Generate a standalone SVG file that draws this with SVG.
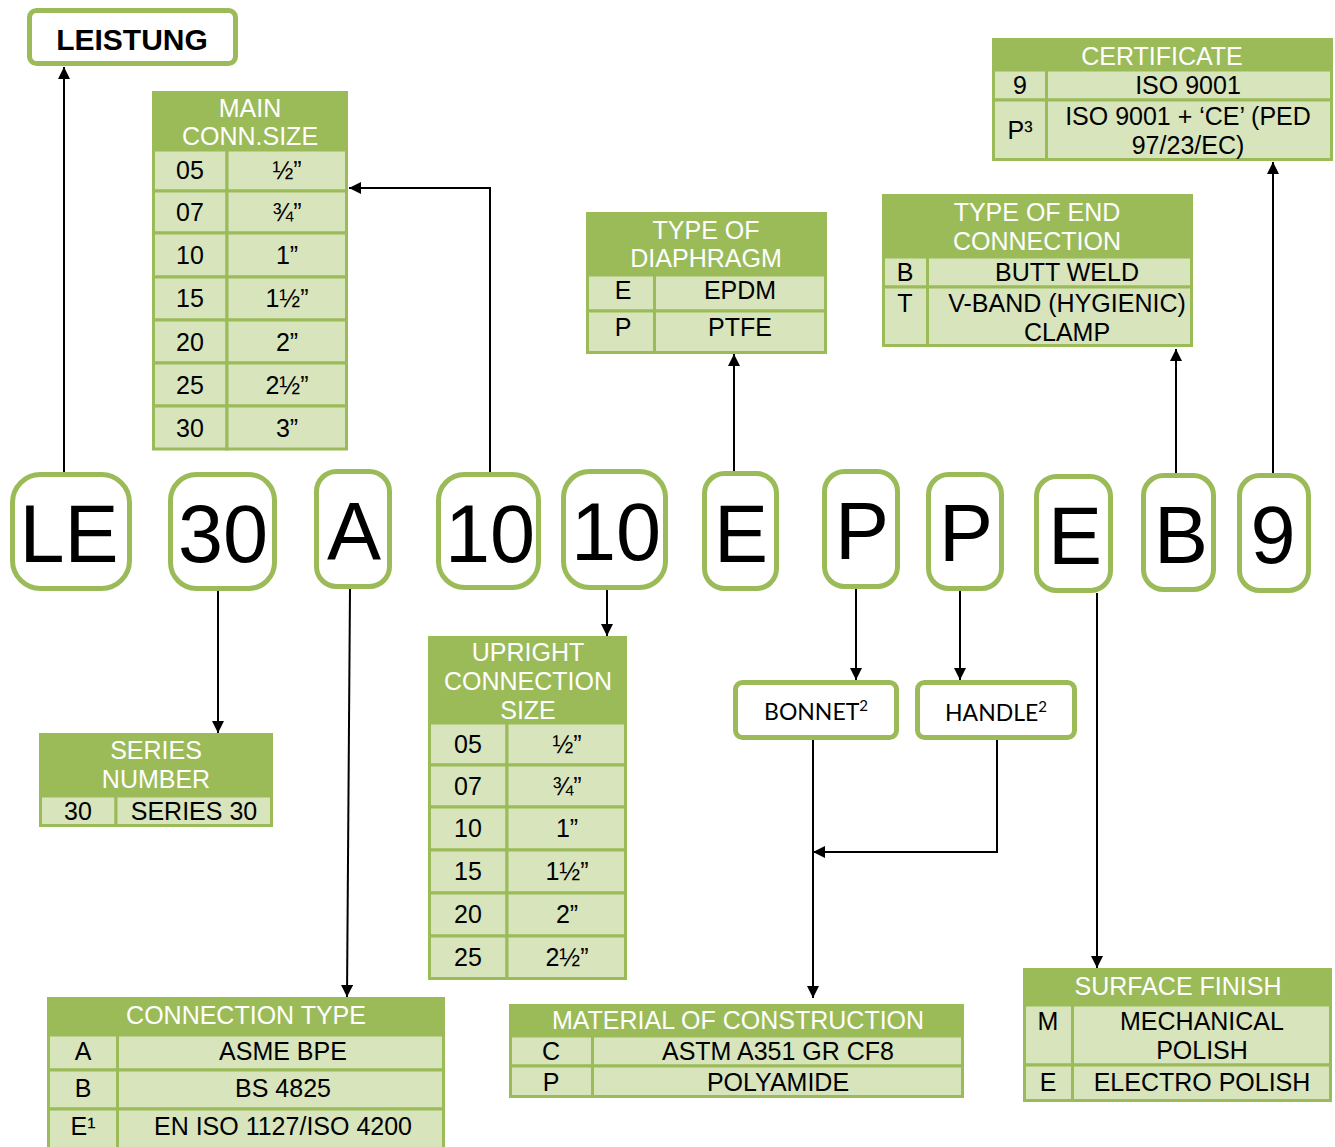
<svg xmlns="http://www.w3.org/2000/svg" width="1335" height="1147" viewBox="0 0 1335 1147">
<defs>
<style>
.hd{fill:#9BBB59}
.cl{fill:#D7E4BC;stroke:#9BBB59;stroke-width:3}
.ht{font-family:"Liberation Sans",Arial,sans-serif;font-size:25px;fill:#fff;text-anchor:middle}
.ct{font-family:"Liberation Sans",Arial,sans-serif;font-size:25px;fill:#000;text-anchor:middle}
.code{fill:#fff;stroke:#9BBB59;stroke-width:5}
.big{font-family:"Liberation Sans",Arial,sans-serif;font-size:81px;fill:#000;text-anchor:middle}
.lbl{fill:#fff;stroke:#9BBB59;stroke-width:5}
.lt{font-family:Lato,"Open Sans",sans-serif;font-size:23px;fill:#000;text-anchor:middle}
.conn{stroke:#000;stroke-width:2;fill:none;marker-end:url(#ah)}
</style>
<marker id="ah" viewBox="0 0 10 10" refX="10" refY="5" markerWidth="14" markerHeight="12" markerUnits="userSpaceOnUse" orient="auto">
<path d="M0,0 L10,5 L0,10 z" fill="#000"/>
</marker>
</defs>

<g id="connectors">
<path class="conn" d="M64,472 V67"/>
<path class="conn" d="M490,472 V188 H349"/>
<path class="conn" d="M734,471 V354"/>
<path class="conn" d="M1176,473 V349"/>
<path class="conn" d="M1273,473 V162"/>
<path class="conn" d="M218,591 V733"/>
<path class="conn" d="M350,589 L347,997"/>
<path class="conn" d="M607,590 V636"/>
<path class="conn" d="M856,589 V680"/>
<path class="conn" d="M960,591 V680"/>
<path class="conn" d="M1097,593 V968"/>
<path class="conn" d="M813,740 V998"/>
<path class="conn" d="M997,740 V852 H813"/>
</g>

<g id="leistung">
<rect class="lbl" x="29.5" y="10.5" width="206" height="53" rx="7"/>
<text x="132" y="50" font-family="Liberation Sans,Arial,sans-serif" font-size="30" font-weight="bold" text-anchor="middle">LEISTUNG</text>
</g>

<g id="code-le"><rect class="code" x="12.5" y="474.5" width="117" height="114" rx="28"/><text class="big" x="69" y="562">LE</text></g>
<g id="code-30"><rect class="code" x="170.5" y="474.5" width="104" height="114" rx="26"/><text class="big" x="223" y="562">30</text></g>
<g id="code-a"><rect class="code" x="316.5" y="471.5" width="73" height="115" rx="20"/><text class="big" x="354" y="559">A</text></g>
<g id="code-10a"><rect class="code" x="438.5" y="474.5" width="100" height="113" rx="26"/><text class="big" x="490" y="562">10</text></g>
<g id="code-10b"><rect class="code" x="563.5" y="471.5" width="102" height="116" rx="26"/><text class="big" x="616" y="560">10</text></g>
<g id="code-e1"><rect class="code" x="704.5" y="473.5" width="72" height="115" rx="20"/><text class="big" x="741" y="562">E</text></g>
<g id="code-p1"><rect class="code" x="824.5" y="471.5" width="73" height="115" rx="20"/><text class="big" x="862" y="559">P</text></g>
<g id="code-p2"><rect class="code" x="928.5" y="474.5" width="73" height="114" rx="20"/><text class="big" x="966" y="561">P</text></g>
<g id="code-e2"><rect class="code" x="1036.5" y="476.5" width="74" height="114" rx="20"/><text class="big" x="1075" y="564">E</text></g>
<g id="code-b"><rect class="code" x="1143.5" y="475.5" width="70" height="114" rx="20"/><text class="big" x="1181" y="563">B</text></g>
<g id="code-9"><rect class="code" x="1239.5" y="475.5" width="69" height="115" rx="20"/><text class="big" x="1273" y="563">9</text></g>

<g id="main-conn-size">
<rect class="hd" x="152" y="91" width="196" height="60"/>
<text class="ht" x="250" y="117">MAIN</text>
<text class="ht" x="250" y="145">CONN.SIZE</text>
<rect class="cl" x="153.5" y="150" width="73.5" height="41"/><rect class="cl" x="227" y="150" width="119.5" height="41"/>
<rect class="cl" x="153.5" y="191" width="73.5" height="42"/><rect class="cl" x="227" y="191" width="119.5" height="42"/>
<rect class="cl" x="153.5" y="233" width="73.5" height="44"/><rect class="cl" x="227" y="233" width="119.5" height="44"/>
<rect class="cl" x="153.5" y="277" width="73.5" height="43"/><rect class="cl" x="227" y="277" width="119.5" height="43"/>
<rect class="cl" x="153.5" y="320" width="73.5" height="43"/><rect class="cl" x="227" y="320" width="119.5" height="43"/>
<rect class="cl" x="153.5" y="363" width="73.5" height="43"/><rect class="cl" x="227" y="363" width="119.5" height="43"/>
<rect class="cl" x="153.5" y="406" width="73.5" height="43"/><rect class="cl" x="227" y="406" width="119.5" height="43"/>
<text class="ct" x="190" y="179">05</text><text class="ct" x="287" y="179">½”</text>
<text class="ct" x="190" y="221">07</text><text class="ct" x="287" y="221">¾”</text>
<text class="ct" x="190" y="264">10</text><text class="ct" x="287" y="264">1”</text>
<text class="ct" x="190" y="307">15</text><text class="ct" x="287" y="307">1½”</text>
<text class="ct" x="190" y="351">20</text><text class="ct" x="287" y="351">2”</text>
<text class="ct" x="190" y="394">25</text><text class="ct" x="287" y="394">2½”</text>
<text class="ct" x="190" y="437">30</text><text class="ct" x="287" y="437">3”</text>
</g>

<g id="type-of-diaphragm">
<rect class="hd" x="586" y="212" width="241" height="64"/>
<text class="ht" x="706" y="239">TYPE OF</text>
<text class="ht" x="706" y="267">DIAPHRAGM</text>
<rect class="cl" x="587.5" y="275" width="67" height="36"/><rect class="cl" x="654.5" y="275" width="171" height="36"/>
<rect class="cl" x="587.5" y="311" width="67" height="41.5"/><rect class="cl" x="654.5" y="311" width="171" height="41.5"/>
<text class="ct" x="623" y="299">E</text><text class="ct" x="740" y="299">EPDM</text>
<text class="ct" x="623" y="336">P</text><text class="ct" x="740" y="336">PTFE</text>
</g>

<g id="certificate">
<rect class="hd" x="992" y="38" width="341" height="33"/>
<text class="ht" x="1162" y="65">CERTIFICATE</text>
<rect class="cl" x="993.5" y="70" width="53" height="30"/><rect class="cl" x="1046.5" y="70" width="285" height="30"/>
<rect class="cl" x="993.5" y="100" width="53" height="59.5"/><rect class="cl" x="1046.5" y="100" width="285" height="59.5"/>
<text class="ct" x="1020" y="94">9</text><text class="ct" x="1188" y="94">ISO 9001</text>
<text class="ct" x="1020" y="139">P³</text>
<text class="ct" x="1188" y="125">ISO 9001 + ‘CE’ (PED</text>
<text class="ct" x="1188" y="154">97/23/EC)</text>
</g>

<g id="type-of-end-connection">
<rect class="hd" x="882" y="194" width="311" height="64"/>
<text class="ht" x="1037" y="221">TYPE OF END</text>
<text class="ht" x="1037" y="250">CONNECTION</text>
<rect class="cl" x="883.5" y="257" width="44" height="30"/><rect class="cl" x="927.5" y="257" width="264" height="30"/>
<rect class="cl" x="883.5" y="287" width="44" height="58.5"/><rect class="cl" x="927.5" y="287" width="264" height="58.5"/>
<text class="ct" x="905" y="281">B</text><text class="ct" x="1067" y="281">BUTT WELD</text>
<text class="ct" x="905" y="312">T</text><text class="ct" x="1067" y="312">V-BAND (HYGIENIC)</text>
<text class="ct" x="1067" y="341">CLAMP</text>
</g>

<g id="series-number">
<rect class="hd" x="39" y="733" width="234" height="94"/>
<text class="ht" x="156" y="759">SERIES</text>
<text class="ht" x="156" y="788">NUMBER</text>
<rect class="cl" x="40.5" y="796" width="75.5" height="29.5"/><rect class="cl" x="116" y="796" width="155.5" height="29.5"/>
<text class="ct" x="78" y="820">30</text><text class="ct" x="194" y="820">SERIES 30</text>
</g>

<g id="upright-connection-size">
<rect class="hd" x="428" y="636" width="199" height="88"/>
<text class="ht" x="528" y="661">UPRIGHT</text>
<text class="ht" x="528" y="690">CONNECTION</text>
<text class="ht" x="528" y="719">SIZE</text>
<rect class="cl" x="429.5" y="723" width="77.5" height="42"/><rect class="cl" x="507" y="723" width="118.5" height="42"/>
<rect class="cl" x="429.5" y="765" width="77.5" height="42"/><rect class="cl" x="507" y="765" width="118.5" height="42"/>
<rect class="cl" x="429.5" y="807" width="77.5" height="43"/><rect class="cl" x="507" y="807" width="118.5" height="43"/>
<rect class="cl" x="429.5" y="850" width="77.5" height="43"/><rect class="cl" x="507" y="850" width="118.5" height="43"/>
<rect class="cl" x="429.5" y="893" width="77.5" height="43"/><rect class="cl" x="507" y="893" width="118.5" height="43"/>
<rect class="cl" x="429.5" y="936" width="77.5" height="42.5"/><rect class="cl" x="507" y="936" width="118.5" height="42.5"/>
<text class="ct" x="468" y="753">05</text><text class="ct" x="567" y="753">½”</text>
<text class="ct" x="468" y="795">07</text><text class="ct" x="567" y="795">¾”</text>
<text class="ct" x="468" y="837">10</text><text class="ct" x="567" y="837">1”</text>
<text class="ct" x="468" y="880">15</text><text class="ct" x="567" y="880">1½”</text>
<text class="ct" x="468" y="923">20</text><text class="ct" x="567" y="923">2”</text>
<text class="ct" x="468" y="966">25</text><text class="ct" x="567" y="966">2½”</text>
</g>

<g id="connection-type">
<rect class="hd" x="47" y="997" width="398" height="39"/>
<text class="ht" x="246" y="1024">CONNECTION TYPE</text>
<rect class="cl" x="48.5" y="1035" width="69" height="35"/><rect class="cl" x="117.5" y="1035" width="326" height="35"/>
<rect class="cl" x="48.5" y="1070" width="69" height="39"/><rect class="cl" x="117.5" y="1070" width="326" height="39"/>
<rect class="cl" x="48.5" y="1109" width="69" height="45"/><rect class="cl" x="117.5" y="1109" width="326" height="45"/>
<text class="ct" x="83" y="1060">A</text><text class="ct" x="283" y="1060">ASME BPE</text>
<text class="ct" x="83" y="1097">B</text><text class="ct" x="283" y="1097">BS 4825</text>
<text class="ct" x="83" y="1135">E¹</text><text class="ct" x="283" y="1135">EN ISO 1127/ISO 4200</text>
</g>

<g id="bonnet">
<rect class="lbl" x="735.5" y="682.5" width="161" height="55" rx="7"/>
<text class="lt" x="816" y="720">BONNET<tspan font-size="15" dy="-9">2</tspan></text>
</g>
<g id="handle">
<rect class="lbl" x="917.5" y="682.5" width="157" height="55" rx="7"/>
<text class="lt" x="996" y="721">HANDLE<tspan font-size="15" dy="-9">2</tspan></text>
</g>

<g id="material-of-construction">
<rect class="hd" x="509" y="1004" width="455" height="33"/>
<text class="ht" x="738" y="1029">MATERIAL OF CONSTRUCTION</text>
<rect class="cl" x="510.5" y="1036" width="82" height="30"/><rect class="cl" x="592.5" y="1036" width="370" height="30"/>
<rect class="cl" x="510.5" y="1066" width="82" height="30.5"/><rect class="cl" x="592.5" y="1066" width="370" height="30.5"/>
<text class="ct" x="551" y="1060">C</text><text class="ct" x="778" y="1060">ASTM A351 GR CF8</text>
<text class="ct" x="551" y="1091">P</text><text class="ct" x="778" y="1091">POLYAMIDE</text>
</g>

<g id="surface-finish">
<rect class="hd" x="1023" y="968" width="309" height="38"/>
<text class="ht" x="1178" y="995">SURFACE FINISH</text>
<rect class="cl" x="1024.5" y="1005" width="48" height="60"/><rect class="cl" x="1072.5" y="1005" width="258" height="60"/>
<rect class="cl" x="1024.5" y="1065" width="48" height="35.5"/><rect class="cl" x="1072.5" y="1065" width="258" height="35.5"/>
<text class="ct" x="1048" y="1030">M</text><text class="ct" x="1202" y="1030">MECHANICAL</text>
<text class="ct" x="1202" y="1059">POLISH</text>
<text class="ct" x="1048" y="1091">E</text><text class="ct" x="1202" y="1091">ELECTRO POLISH</text>
</g>
</svg>
